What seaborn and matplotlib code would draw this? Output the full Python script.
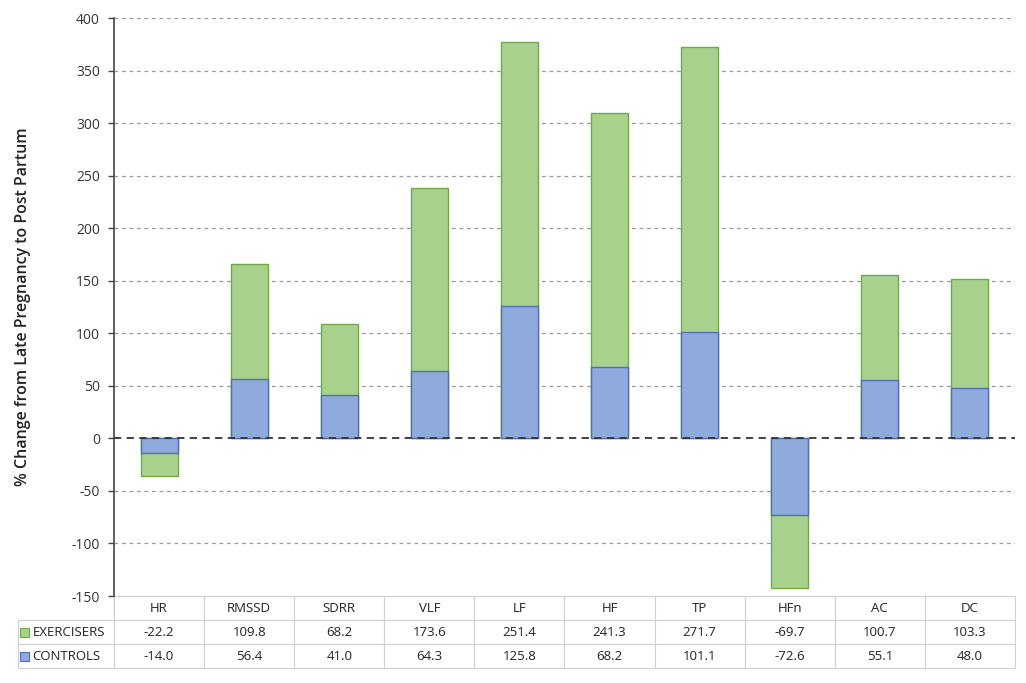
import matplotlib
matplotlib.use("Agg")
import matplotlib.pyplot as plt
import seaborn as sns
import numpy as np
from matplotlib.patches import Rectangle

categories = ["HR", "RMSSD", "SDRR", "VLF", "LF", "HF", "TP", "HFn", "AC", "DC"]
exercisers = [-22.2, 109.8, 68.2, 173.6, 251.4, 241.3, 271.7, -69.7, 100.7, 103.3]
controls = [-14.0, 56.4, 41.0, 64.3, 125.8, 68.2, 101.1, -72.6, 55.1, 48.0]
series_names = ["EXERCISERS", "CONTROLS"]
yticks = list(range(-150, 401, 50))

green_fill = "#A9D18E"
green_edge = "#6FA84A"
blue_fill = "#8FAADC"
blue_edge = "#4F6FB0"

sns.set_style("white")
plt.rcParams["font.family"] = ["Open Sans", "DejaVu Sans"]

W, H = 1026, 683
fig = plt.figure(figsize=(W / 100, H / 100), dpi=100)
ax_l, ax_r, ax_t, ax_b = 114, 1015, 18, 596
ax = fig.add_axes([ax_l / W, 1 - ax_b / H, (ax_r - ax_l) / W, (ax_b - ax_t) / H])

totals = [e + c for e, c in zip(exercisers, controls)]

sns.barplot(x=categories, y=totals, color=green_fill, saturation=1, width=0.41,
            edgecolor=green_edge, linewidth=1.0, ax=ax, zorder=3)
sns.barplot(x=categories, y=controls, color=blue_fill, saturation=1, width=0.41,
            edgecolor=blue_edge, linewidth=1.0, ax=ax, zorder=4)

ax.set_xlim(-0.5, len(categories) - 0.5)
ax.set_ylim(-150, 400)
ax.set_yticks(yticks)
ax.set_yticklabels([str(t) for t in yticks], fontsize=10, color="#333333")
for t in yticks:
    if t == 0:
        ax.axhline(t, color="#333333", ls=(0, (4, 3)), lw=1.3, zorder=5)
    elif t > -150:
        ax.axhline(t, color="#9a9a9a", ls=(0, (3, 3)), lw=0.9, zorder=1)

ax.set_xticks([])
ax.set_xlabel("")
ax.set_ylabel("% Change from Late Pregnancy to Post Partum", fontsize=11.5,
              color="#222222", labelpad=29, fontweight="semibold")
for s in ["top", "right", "bottom"]:
    ax.spines[s].set_visible(False)
ax.spines["left"].set_color("#444444")
ax.spines["left"].set_linewidth(1.2)
ax.tick_params(axis="y", direction="out", length=4, width=1, color="#444444", left=True, pad=6)

# data table below the plot
label_px_left = 18
ax_w = ax_r - ax_l
ax_h = ax_b - ax_t
x0 = (label_px_left - ax_l) / ax_w
table_h = (668 - ax_b) / ax_h
header = [""] + categories
row_e = [series_names[0]] + [f"{v:.1f}" for v in exercisers]
row_c = [series_names[1]] + [f"{v:.1f}" for v in controls]
label_w = (ax_l - label_px_left) / ax_w
col_w = [label_w] + [1.0 / len(categories)] * len(categories)
tbl = ax.table(cellText=[header, row_e, row_c], colWidths=col_w,
               bbox=[x0, -table_h, 1 - x0, table_h], cellLoc="center")
tbl.auto_set_font_size(False)
tbl.set_fontsize(9.5)
for (r, c), cell in tbl.get_celld().items():
    cell.set_edgecolor("#d0d0d0")
    cell.set_linewidth(0.8)
    cell.get_text().set_color("#222222")
    if c == 0:
        cell.get_text().set_ha("left")
        cell.PAD = 0.15
        if r == 0:
            cell.visible_edges = "R"
        else:
            cell.visible_edges = "closed"
tbl[0, 0].set_edgecolor("#444444")

# legend keys in table
row_h = table_h / 3
for i, (fc, ec) in enumerate([(green_fill, green_edge), (blue_fill, blue_edge)]):
    yc = -row_h * (1.5 + i)
    sq = 9 / ax_h
    ax.add_patch(Rectangle(((20 - ax_l) / ax_w, yc - sq / 2), 9 / ax_w, sq,
                           transform=ax.transAxes, clip_on=False,
                           facecolor=fc, edgecolor=ec, lw=0.8, zorder=10))

fig.savefig("out.png", dpi=100, facecolor="white")
